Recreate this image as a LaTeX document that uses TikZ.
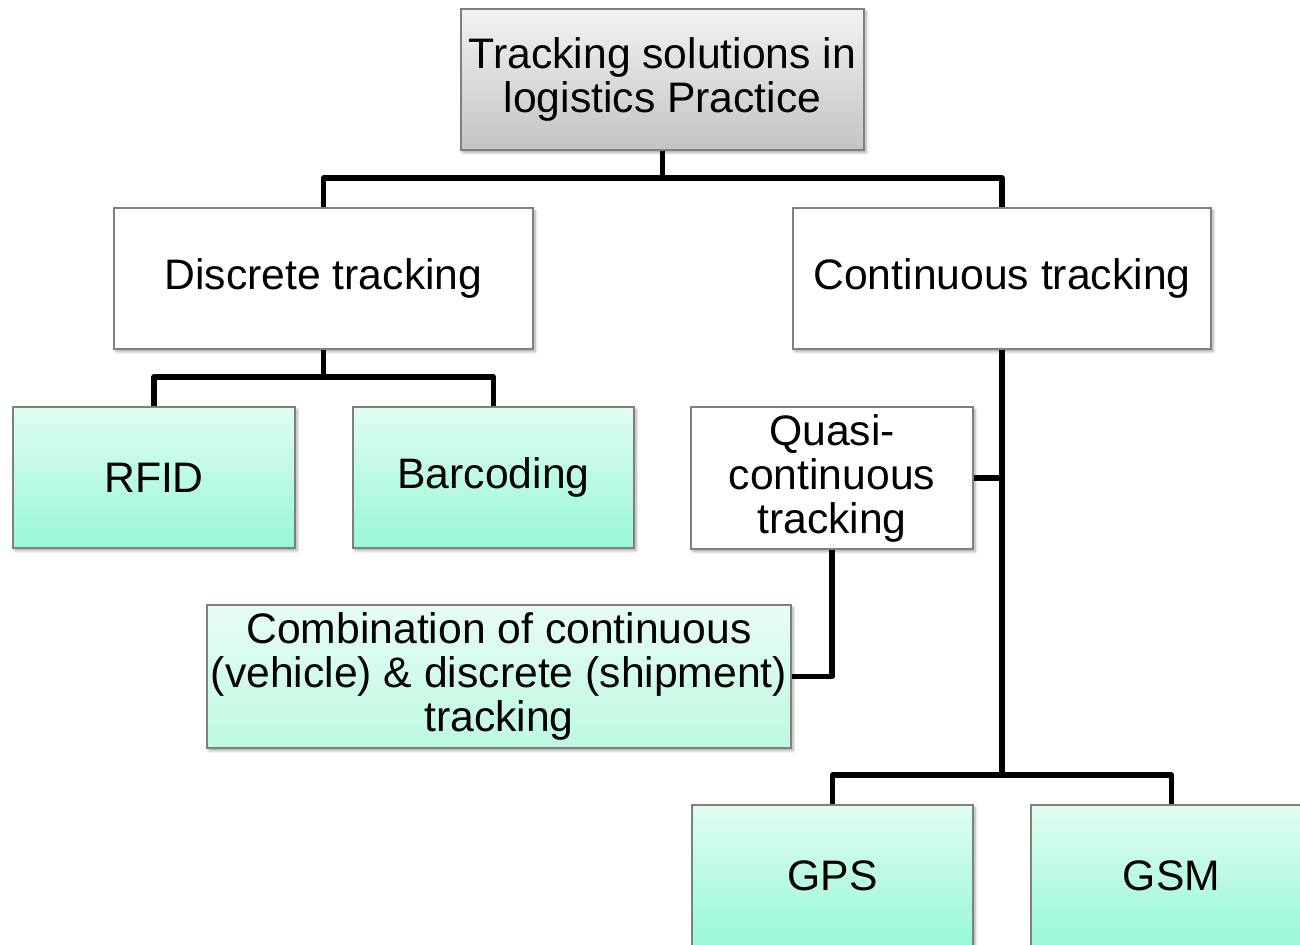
\documentclass[tikz,border=0pt]{standalone}
\usepackage{fontspec}
\setmainfont{Liberation Sans}
\usetikzlibrary{shadows.blur}
\definecolor{boxline}{HTML}{7F7F7F}
\definecolor{graytop}{HTML}{F2F2F2}
\definecolor{graybot}{HTML}{C4C4C4}
\definecolor{greentop}{HTML}{E0FDF0}
\definecolor{greenbot}{HTML}{98F8D6}
\definecolor{ltgreentop}{HTML}{E8FDF4}
\definecolor{ltgreenbot}{HTML}{BDF9E0}
\tikzset{
  basebox/.style={draw=boxline, line width=1pt, inner sep=0pt, align=center,
    font=\fontsize{32}{33}\selectfont,
    blur shadow={shadow xshift=1.5pt, shadow yshift=-2pt, shadow blur steps=6, shadow opacity=35}},
  graybox/.style={basebox, top color=graytop, bottom color=graybot},
  whitebox/.style={basebox, fill=white},
  greenbox/.style={basebox, top color=greentop, bottom color=greenbot},
  ltgreenbox/.style={basebox, top color=ltgreentop, bottom color=ltgreenbot},
  conn/.style={line width=3.8pt, black, line join=round}
}
\begin{document}
\begin{tikzpicture}[x=0.75pt,y=-0.75pt]
\useasboundingbox (0,0) rectangle (1300,945);
\clip (0,0) rectangle (1300,945);
\node[graybox, minimum width=302.25pt, minimum height=105.75pt] (top) at (662.5,79.5) {Tracking solutions in\\logistics Practice};
\node[whitebox, minimum width=314.25pt, minimum height=105.75pt] (disc) at (323.5,278.5) {Discrete tracking};
\node[whitebox, minimum width=313.5pt, minimum height=105.75pt] (cont) at (1002,278.5) {Continuous tracking};
\node[greenbox, minimum width=211.5pt, minimum height=105.75pt] (rfid) at (154,477.5) {RFID};
\node[greenbox, minimum width=210.75pt, minimum height=105.75pt] (bar) at (493.5,477.5) {Barcoding};
\node[whitebox, minimum width=211.5pt, minimum height=106.5pt] (quasi) at (832,478) {Quasi-\\continuous\\tracking};
\node[ltgreenbox, minimum width=438pt, minimum height=107.25pt] (combo) at (499,676.5) {Combination of continuous\\(vehicle) \& discrete (shipment)\\tracking};
\node[greenbox, minimum width=210.75pt, minimum height=105.75pt] (gps) at (832.5,875.5) {GPS};
\node[greenbox, minimum width=210.75pt, minimum height=105.75pt] (gsm) at (1171.5,875.5) {GSM};

\coordinate (j1) at (662.5,178);
\coordinate (j2) at (323.5,377);
\coordinate (j3) at (1002,775);
\draw[conn] (top.south) -- (j1);
\draw[conn] (disc.north) |- (j1) -| (cont.north);
\draw[conn] (disc.south) -- (j2);
\draw[conn] (rfid.north) |- (j2) -| (bar.north);
\draw[conn] (cont.south) -- (j3);
\draw[conn] (quasi.east) -- (quasi.east -| cont.south);
\draw[conn] (quasi.south) |- (combo.east);
\draw[conn] (gps.north) |- (j3) -| (gsm.north);
\end{tikzpicture}
\end{document}
